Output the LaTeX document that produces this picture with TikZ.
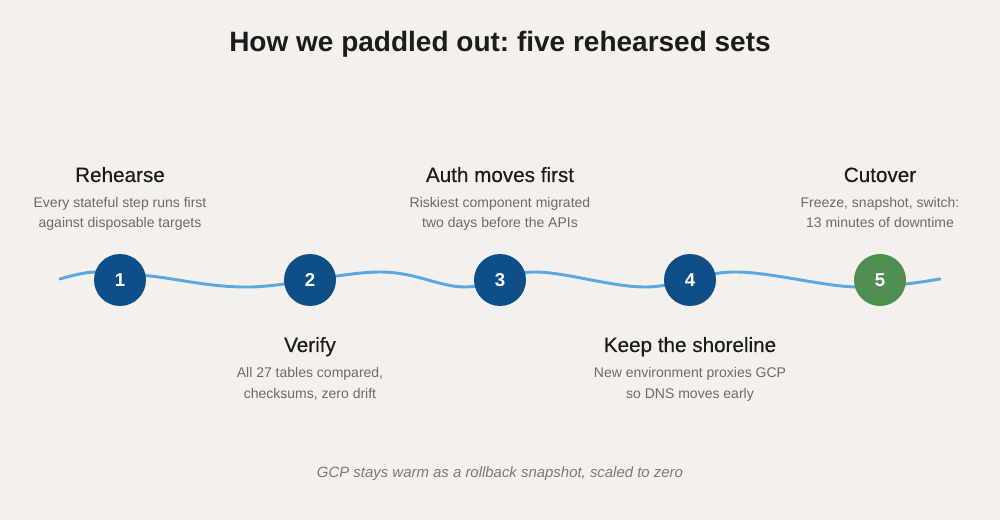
\documentclass[tikz,border=0pt]{standalone}
\usepackage{fontspec}
\setmainfont{Liberation Sans}
\newfontfamily\headfont[FakeBold=0.4]{Liberation Sans}
\frenchspacing
\definecolor{bgc}{HTML}{F4F1EC}
\definecolor{inkc}{HTML}{1C1C1C}
\definecolor{greyc}{HTML}{6B6B6B}
\definecolor{footc}{HTML}{7A7A7A}
\definecolor{bluec}{HTML}{0E4F8A}
\definecolor{greenc}{HTML}{4E8E50}
\definecolor{wavec}{HTML}{5BA7DF}
\tikzset{
  titletext/.style={font=\fontsize{21}{24}\selectfont\bfseries, text=inkc, anchor=base, inner sep=0},
  headtext/.style={font=\headfont\fontsize{15.5}{18}\selectfont, text=inkc, anchor=base, inner sep=0},
  bodytext/.style={font=\fontsize{10.5}{12}\selectfont, text=greyc, anchor=base, inner sep=0},
  foottext/.style={font=\fontsize{11.2}{13}\selectfont\itshape, text=footc, anchor=base, inner sep=0},
  stepcircle/.style={circle, minimum size=39pt, inner sep=0, text=white, font=\fontsize{14}{16}\selectfont\bfseries},
  bluestep/.style={stepcircle, fill=bluec},
  greenstep/.style={stepcircle, fill=greenc},
  waveline/.style={draw=wavec, line width=2.2pt, line cap=round}
}
\begin{document}
\begin{tikzpicture}[x=0.75pt, y=-0.75pt]
\fill[bgc] (0,0) rectangle (1000,520);
\useasboundingbox (0,0) rectangle (1000,520);
\node[titletext] (title) at (500,52) {How we paddled out: five rehearsed sets};
% wave
\coordinate (ws) at (60,279);
\coordinate (we) at (940,279);
\draw[waveline] plot[smooth, tension=0.6] coordinates {(ws) (95,272) (150,276) (250,287) (380,272) (465,287) (535,272) (645,287) (735,272) (855,287) (we)};
% circles
\node[bluestep] (s1) at (120,280) {1};
\node[bluestep] (s2) at (310,280) {2};
\node[bluestep] (s3) at (500,280) {3};
\node[bluestep] (s4) at (690,280) {4};
\node[greenstep] (s5) at (880,280) {5};
% top labels
\node[headtext] (h1) at (120,182) {Rehearse};
\node[bodytext] (b1a) at (120,208) {Every stateful step runs first};
\node[bodytext] (b1b) at (120,228) {against disposable targets};
\node[headtext] (h3) at (500,182) {Auth moves first};
\node[bodytext] (b3a) at (500,208) {Riskiest component migrated};
\node[bodytext] (b3b) at (500,228) {two days before the APIs};
\node[headtext] (h5) at (880,182) {Cutover};
\node[bodytext] (b5a) at (880,208) {Freeze, snapshot, switch:};
\node[bodytext] (b5b) at (880,228) {13 minutes of downtime};
% bottom labels
\node[headtext] (h2) at (310,352) {Verify};
\node[bodytext] (b2a) at (310,378) {All 27 tables compared,};
\node[bodytext] (b2b) at (310,398) {checksums, zero drift};
\node[headtext] (h4) at (690,352) {Keep the shoreline};
\node[bodytext] (b4a) at (690,378) {New environment proxies GCP};
\node[bodytext] (b4b) at (690,398) {so DNS moves early};
\node[foottext] (foot) at (500,477) {GCP stays warm as a rollback snapshot, scaled to zero};
\end{tikzpicture}
\end{document}
